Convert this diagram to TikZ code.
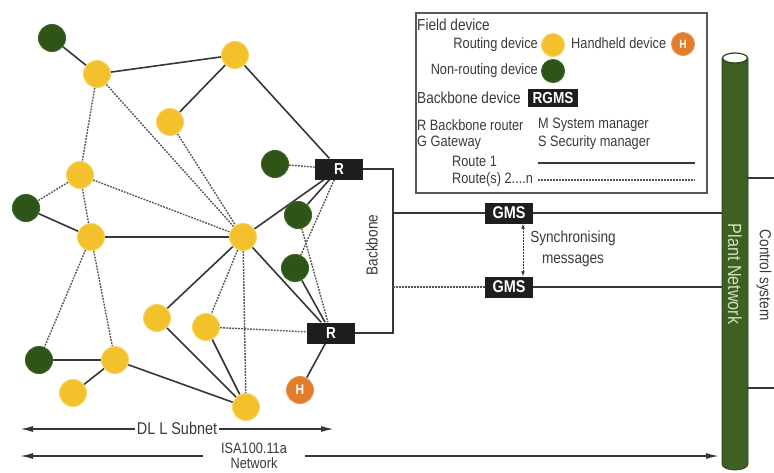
\documentclass[tikz,border=0pt]{standalone}
\usepackage{fontspec}
\setmainfont{Liberation Sans}[FakeStretch=0.85]
\usetikzlibrary{arrows.meta}
\pgfdeclarelayer{bg}
\pgfsetlayers{bg,main}

\newcommand\pxfont[1]{\fontsize{#1}{#1}\selectfont}

\definecolor{ydev}{HTML}{F3C12C}
\definecolor{yedge}{HTML}{F6D468}
\definecolor{gdev}{HTML}{2E5418}
\definecolor{gedge}{HTML}{3D6526}
\definecolor{hdev}{HTML}{E17C2B}
\definecolor{lk}{HTML}{363636}
\definecolor{txt}{HTML}{3A3A3A}
\definecolor{pnfill}{HTML}{3F6024}
\definecolor{pnedge}{HTML}{2B4518}
\definecolor{pntext}{HTML}{CFE3B5}
\definecolor{boxfill}{HTML}{1E1E1E}

\begin{document}
\begin{tikzpicture}[x=1pt,y=-1pt,
  every node/.style={text=txt},
  ydevice/.style={circle,fill=ydev,draw=yedge,line width=1,minimum size=27,inner sep=0},
  gdevice/.style={circle,fill=gdev,draw=gedge,line width=1,minimum size=27,inner sep=0},
  hdevice/.style={circle,fill=hdev,draw=hdev!80!white,line width=1,minimum size=27,inner sep=0,text=white,font=\pxfont{14}\bfseries},
  bbox/.style={fill=boxfill,text=white,font=\pxfont{16}\bfseries,inner sep=0,minimum height=21,minimum width=48},
  link/.style={draw=lk,line width=1.6},
  route/.style={draw=lk!85,line width=1.4,dash pattern=on 1.8pt off 1.2pt},
  lbl/.style={font=\pxfont{15},inner sep=0},
]
\useasboundingbox (0,0) rectangle (774,472);

% ---- field devices and backbone routers
\node[gdevice] (g1) at (52,38) {};
\node[ydevice] (y1) at (97,74) {};
\node[ydevice] (y2) at (235,55) {};
\node[ydevice] (y3) at (170,122) {};
\node[gdevice] (g2) at (275,164) {};
\node[bbox] (R1) at (339,169) {R};
\node[ydevice] (y4) at (80,175) {};
\node[gdevice] (g3) at (26,208) {};
\node[ydevice] (y5) at (91,237) {};
\node[ydevice] (y6) at (243,237) {};
\node[gdevice] (g4) at (298,215) {};
\node[gdevice] (g5) at (295,268) {};
\node[ydevice] (y7) at (157,318) {};
\node[ydevice] (y8) at (206,327) {};
\node[bbox] (R2) at (331,333) {R};
\node[gdevice] (g6) at (39,360) {};
\node[ydevice] (y9) at (115,360) {};
\node[ydevice] (y10) at (73,393) {};
\node[ydevice] (y11) at (246,407) {};
\node[hdevice] (H) at (300,390) {H};

\begin{pgfonlayer}{bg}
  % primary routes
  \draw[link] (g1) -- (y1);
  \draw[link] (y1) -- (y2);
  \draw[link] (y2) -- (y3);
  \draw[link] (y2) -- (R1);
  \draw[link] (y6) -- (R1);
  \draw[link] (R1) -- (g4);
  \draw[link] (g3) -- (y5);
  \draw[link] (y5) -- (y6);
  \draw[link] (g6) -- (y9);
  \draw[link] (y9) -- (y10);
  \draw[link] (y9) -- (y11);
  \draw[link] (y6) -- (y7);
  \draw[link] (y7) -- (y11);
  \draw[link] (y8) -- (y11);
  \draw[link] (y6) -- (R2);
  \draw[link] (g5) -- (R2);
  \draw[link] (R2) -- (H);
  % alternative routes
  \draw[route] (y1) -- (y4);
  \draw[route] (y1) -- (y6);
  \draw[route] (y3) -- (y6);
  \draw[route] (y4) -- (g3);
  \draw[route] (y4) -- (y5);
  \draw[route] (y4) -- (y6);
  \draw[route] (y5) -- (g6);
  \draw[route] (y5) -- (y9);
  \draw[route] (y6) -- (y8);
  \draw[route] (y6) -- (y11);
  \draw[route] (y8) -- (R2);
  \draw[route] (g2) -- (R1);
  \draw[route] (R1) -- (g5);
  \draw[route] (g4) -- (R2);
\end{pgfonlayer}

% ---- backbone and gateways
\coordinate (bbB) at (393,333);
\coordinate (pnL) at (722,0);
\coordinate (pnR) at (748,0);
\draw[link,line width=1.8] (R1.east) -| (bbB) -- (R2.east);
\node[font=\pxfont{16},rotate=90] (bbt) at (372,245) {Backbone};

\node[bbox,font=\pxfont{17}\bfseries] (G1) at (509,213) {GMS};
\node[bbox,font=\pxfont{17}\bfseries] (G2) at (509,287) {GMS};
\draw[link,line width=1.8] (G1.west -| bbB) -- (G1.west);
\draw[route,line width=1.6] (G2.west -| bbB) -- (G2.west);
\draw[link,line width=1.8] (G1.east) -- (G1.east -| pnL);
\draw[link,line width=1.8] (G2.east) -- (G2.east -| pnL);
\draw[lk,line width=1,dash pattern=on 2pt off 1pt,{Latex[length=5,width=4]}-{Latex[length=5,width=4]}]
  ([xshift=14]G1.south) -- ([xshift=14]G2.north);
\node[align=center,font={\fontsize{16}{21}\selectfont}] (sync) at (573,249) {Synchronising\\messages};

% ---- subnet and network extents
\coordinate (dl) at (20,429);
\coordinate (dr) at (334,429);
\draw[link,{Latex[length=13,width=6]}-{Latex[length=13,width=6]}] (dl) -- (dr);
\node[fill=white,inner sep=1.5,font=\pxfont{17}] (dll) at (177,428) {DL L Subnet};
\coordinate (il) at (20,456);
\coordinate (ir) at (719,456);
\draw[link,{Latex[length=13,width=6]}-{Latex[length=13,width=6]}] (il) -- (ir);
\node[fill=white,inner xsep=18,inner ysep=0,align=center,font={\fontsize{15}{15.5}\selectfont}] (isa) at (254,456) {ISA100.11a\\Network};

% ---- plant network pipe
\draw[pnedge,fill=pnfill,line width=0.8] (722,58) -- (722,464)
  arc[start angle=180,end angle=0,x radius=13,y radius=6] -- (748,58);
\draw[pnedge,fill=white,line width=1.2] (735,58) ellipse[x radius=12.5,y radius=5];
\node[rotate=-90,text=pntext,font=\pxfont{19}] (pnt) at (735,274) {Plant Network};
\draw[link,line width=1.8] (pnR |- 0,178) -- (774,178);
\draw[link,line width=1.8] (pnR |- 0,388) -- (774,388);
\node[rotate=-90,font=\pxfont{16}] (cst) at (764,275) {Control system};

% ---- legend
\draw[gray!70!black,line width=1.2] (416,13) rectangle (707,193);
\node[lbl,anchor=west,font=\pxfont{16}] (lfd) at (417,25) {Field device};
\node[ydevice,minimum size=23] (lyd) at (553,45) {};
\node[lbl,anchor=east] (lyt) at (538,45) {Routing device};
\node[lbl,anchor=west] (lht) at (571,43) {Handheld device};
\node[hdevice,minimum size=23,font=\pxfont{12}\bfseries] (lhd) at (683,44) {H};
\node[gdevice,minimum size=23] (lgd) at (553,71) {};
\node[lbl,anchor=east] (lgt) at (538,71) {Non-routing device};
\node[lbl,anchor=west,font=\pxfont{16}] (lbd) at (417,98) {Backbone device};
\node[bbox,minimum width=50,minimum height=18] (lrg) at (553,98) {RGMS};
\node[lbl,anchor=west] (lr) at (417,125) {R Backbone router};
\node[lbl,anchor=west] (lm) at (538,125) {M System manager};
\node[lbl,anchor=west] (lg) at (417,143) {G Gateway};
\node[lbl,anchor=west] (ls) at (538,143) {S Security manager};
\node[lbl,anchor=west] (lr1) at (452,161) {Route 1};
\node[lbl,anchor=west] (lr2) at (452,180) {Route(s) 2....n};
\coordinate (r1a) at (538,163);
\coordinate (r1b) at (695,163);
\coordinate (r2a) at (538,180);
\coordinate (r2b) at (695,180);
\draw[link] (r1a) -- (r1b);
\draw[route] (r2a) -- (r2b);
\end{tikzpicture}
\end{document}
